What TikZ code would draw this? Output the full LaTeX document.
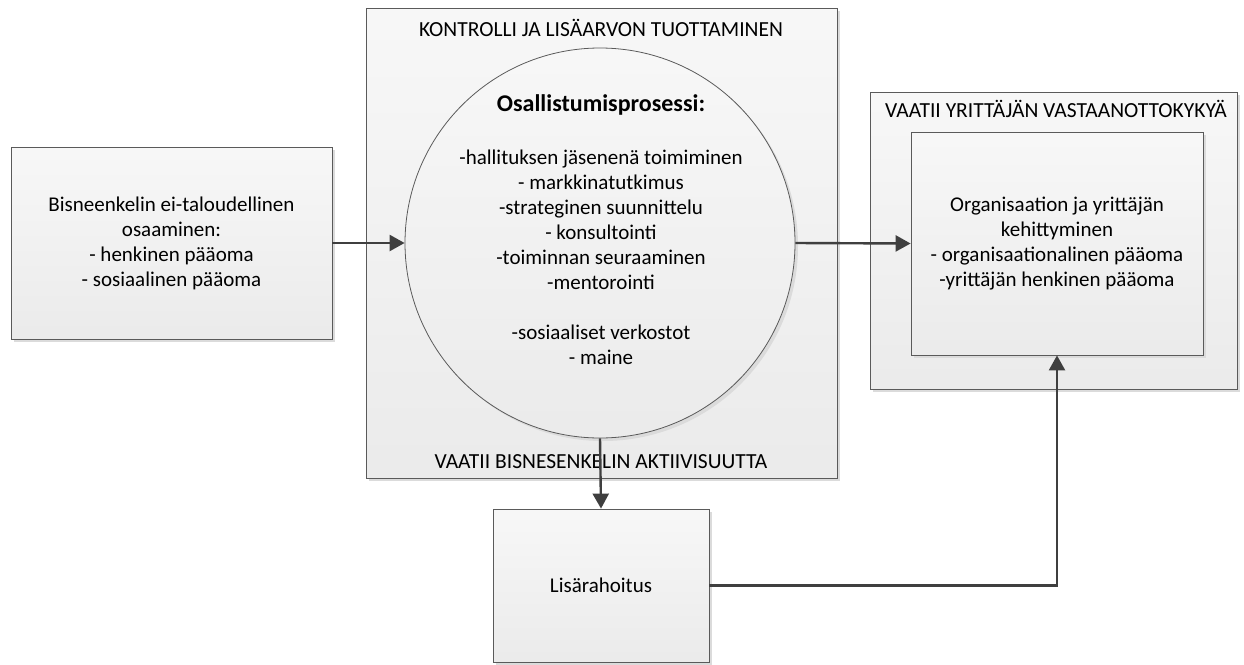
\documentclass[tikz,border=0pt]{standalone}
\usepackage{fontspec}
\setmainfont{Carlito}
\usetikzlibrary{arrows.meta,shadows}
\definecolor{edgegray}{HTML}{5A5A5A}
\definecolor{arrowgray}{HTML}{3F3F3F}
\begin{document}
\begin{tikzpicture}[x=1pt,y=-1pt,
  panel/.style={draw=edgegray, line width=0.8pt, top color=black!3, bottom color=black!8,
    drop shadow={shadow xshift=3pt, shadow yshift=-3pt, fill=black!14, opacity=1},
    inner sep=0pt},
  card/.style={panel, rectangle, align=center, font=\fontsize{21}{25}\selectfont},
  caption/.style={font=\fontsize{21.5}{25}\selectfont, inner sep=0pt},
  arr/.style={draw=arrowgray, line width=2.4pt, -{Triangle[length=15pt,width=16pt]}}
]
\useasboundingbox (0,0) rectangle (1244,664);

% outer frames
\node[card, minimum width=471pt, minimum height=470pt] (mid) at (601.5,243) {};
\node[card, minimum width=367pt, minimum height=297pt] (rout) at (1053.5,240.5) {};

% process circle and its text
\node[panel, circle, minimum size=390pt] (circ) at (600,243) {};
\node[inner sep=0pt, font=\fontsize{24}{28}\selectfont\bfseries] (ctitle) at (601,105)
  {Osallistumisprosessi:};
\node[align=center, inner sep=0pt, font=\fontsize{21}{25}\selectfont] (ctext) at (601,257.5)
  {-hallituksen jäsenenä toimiminen\\
   - markkinatutkimus\\
   -strateginen suunnittelu\\
   - konsultointi\\
   -toiminnan seuraaminen\\
   -mentorointi\\[25pt]
   -sosiaaliset verkostot\\
   - maine};

% boxes
\node[card, minimum width=321pt, minimum height=192pt] (left) at (171.5,243)
  {Bisneenkelin ei-taloudellinen\\ osaaminen:\\ - henkinen pääoma\\ - sosiaalinen pääoma};
\node[card, minimum width=292pt, minimum height=223pt] (rin) at (1057,243.5)
  {Organisaation ja yrittäjän\\ kehittyminen\\ - organisaationalinen pääoma\\ -yrittäjän henkinen pääoma};
\node[card, minimum width=216pt, minimum height=153pt] (fund) at (601,585.5) {Lisärahoitus};

% frame captions
\node[caption] (midtop) at (601,28) {KONTROLLI JA LISÄARVON TUOTTAMINEN};
\node[caption] (midbot) at (601,462) {VAATII BISNESENKELIN AKTIIVISUUTTA};
\node[caption] (routtop) at (1056,109) {VAATII YRITTÄJÄN VASTAANOTTOKYKYÄ};

% connectors
\draw[arr] (left.east) -- (circ.west);
\draw[arr] (circ.east) -- (rin.west);
\draw[arr] (circ.south) -- (fund.north);
\draw[arr] (fund.east) -| (rin.south);
\end{tikzpicture}
\end{document}
